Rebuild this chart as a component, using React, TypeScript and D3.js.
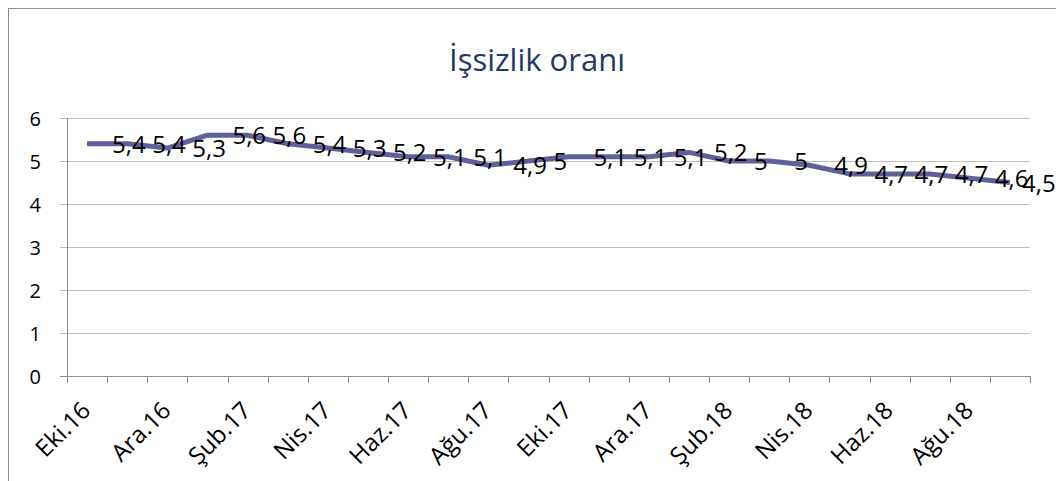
import React from 'react';
import * as d3 from 'd3';

// months, Ekim 2016 .. Eylül 2018
const MONTHS = [
  'Eki.16', 'Kas.16', 'Ara.16', 'Oca.17', 'Şub.17', 'Mar.17', 'Nis.17', 'May.17',
  'Haz.17', 'Tem.17', 'Ağu.17', 'Eyl.17', 'Eki.17', 'Kas.17', 'Ara.17', 'Oca.18',
  'Şub.18', 'Mar.18', 'Nis.18', 'May.18', 'Haz.18', 'Tem.18', 'Ağu.18', 'Eyl.18',
];
const RATE = [
  5.4, 5.4, 5.3, 5.6, 5.6, 5.4, 5.3, 5.2, 5.1, 5.1, 4.9, 5,
  5.1, 5.1, 5.1, 5.2, 5, 5, 4.9, 4.7, 4.7, 4.7, 4.6, 4.5,
];
const Y_TICKS = [0, 1, 2, 3, 4, 5, 6];
const TITLE = 'İşsizlik oranı';

const W = 1056;
const H = 481;
const FONT = '"Open Sans", sans-serif';
const AXIS = '#8c8c8c';

const App = () => {
  // category axis, tick marks between months
  const x = d3.scaleBand().domain(MONTHS).range([67, 1030]);
  const y = d3.scaleLinear().domain([0, 6]).range([376, 118]);
  const cx = (m: string) => (x(m) as number) + x.bandwidth() / 2;
  const edges = MONTHS.map((m) => x(m) as number).concat([x.range()[1]]);

  const line = d3.line<number>()
    .x((_, i) => cx(MONTHS[i]))
    .y((d) => y(d));

  const fmt = (v: number) => String(v).replace('.', ',');
  const yb = y(0);
  const labelled = MONTHS.filter((_, i) => i % 2 === 0);

  return (
    <svg width={W} height={H} style={{ position: 'absolute', left: 0, top: 0 }}>
      <rect x={8.5} y={8.5} width={W + 20} height={H + 20} fill="white" stroke={AXIS} />

      <text x={537} y={71} textAnchor="middle" fontFamily={FONT} fontSize={31} fill="#1f3864">
        {TITLE}
      </text>

      {/* gridlines + y axis */}
      {Y_TICKS.map((t) => {
        const yy = Math.round(y(t)) + 0.5;
        return (
          <g key={t}>
            <line x1={60} x2={1030} y1={yy} y2={yy} stroke={t === 0 ? AXIS : '#bfbfbf'} />
            <text x={41} y={yy + 7} textAnchor="end" fontFamily={FONT} fontSize={20} fill="#000">
              {t}
            </text>
          </g>
        );
      })}
      <line x1={67.5} x2={67.5} y1={y(6)} y2={yb} stroke={AXIS} />

      {/* x axis */}
      {edges.map((e, i) => (
        <line key={i} x1={Math.round(e) + 0.5} x2={Math.round(e) + 0.5} y1={yb} y2={yb + 7} stroke={AXIS} />
      ))}
      {labelled.map((m) => (
        <text
          key={m}
          transform={`translate(${cx(m) + 5},412) rotate(-45)`}
          textAnchor="end"
          fontFamily={FONT}
          fontSize={24}
          fill="#000"
        >
          {m}
        </text>
      ))}

      {/* series */}
      <path
        d={line(RATE) ?? ''}
        fill="none"
        stroke="#5f5f99"
        strokeWidth={5}
        strokeLinejoin="round"
      />

      {/* data labels, right of each point, kept inside the chart */}
      {RATE.map((v, i) => (
        <text
          key={i}
          x={Math.min(cx(MONTHS[i]) + 25, W - 1 - (fmt(v).length > 1 ? 33 : 14))}
          y={y(v) + 9}
          fontFamily={FONT}
          fontSize={24}
          fill="#000"
        >
          {fmt(v)}
        </text>
      ))}
    </svg>
  );
};

export default App;
